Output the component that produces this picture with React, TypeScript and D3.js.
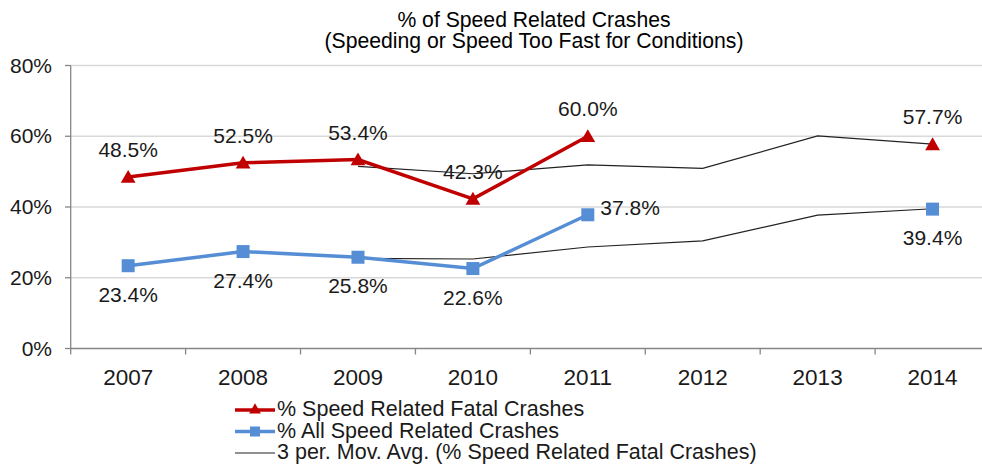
import React from "react";
import * as d3 from "d3";

const years = ["2007", "2008", "2009", "2010", "2011", "2012", "2013", "2014"];
const fatalPct = [48.5, 52.5, 53.4, 42.3, 60.0, null, null, 57.7];
const allPct = [23.4, 27.4, 25.8, 22.6, 37.8, null, null, 39.4];
const fatalAvg = [null, null, 51.5, 49.4, 51.9, 50.9, 60.1, 57.8];
const allAvg = [null, null, 25.5, 25.3, 28.7, 30.4, 37.7, 39.5];
const yTicks = [0, 20, 40, 60, 80];

// where each data label sits relative to its point
const fatalLabelPos = ["above", "above", "above", "above", "above", null, null, "above"];
const allLabelPos = ["below", "below", "below", "below", "right", null, null, "below"];

const W = 982;
const H = 470;
const FONT = "'Liberation Sans', Arial, sans-serif";
const RED = "#C00000";
const BLUE = "#558ED5";

const x = d3.scaleBand().domain(years).range([70.7, 990]);
const y = d3.scaleLinear().domain([0, 80]).range([348.5, 65.5]);
const cx = (i: number) => x(years[i])! + x.bandwidth() / 2;

const line = d3
  .line<number | null>()
  .defined((d) => d != null)
  .x((_, i) => cx(i))
  .y((d) => y(d as number));

const triangle = d3.symbol().type(d3.symbolTriangle).size(95)();

function Labels({ values, pos }: { values: (number | null)[]; pos: (string | null)[] }) {
  return (
    <g fontFamily={FONT} fontSize={21} fill="#1a1a1a">
      {values.map((v, i) => {
        if (v == null) return null;
        const px = cx(i);
        const py = y(v);
        const p = pos[i];
        if (p === "right")
          return (
            <text key={i} x={px + 12.5} y={py} textAnchor="start">
              {v.toFixed(1)}%
            </text>
          );
        return (
          <text key={i} x={px} y={p === "above" ? py - 20 : py + 36} textAnchor="middle">
            {v.toFixed(1)}%
          </text>
        );
      })}
    </g>
  );
}

export default function App() {
  const boundaries = d3.range(years.length + 1).map((i) => 70.7 + i * x.bandwidth());
  return (
    <svg
      width={W}
      height={H}
      style={{ position: "absolute", left: 0, top: 0, background: "#fff" }}
    >
      <g fontFamily={FONT} fill="#000" textAnchor="middle" fontSize={21.2}>
        <text x={534} y={27}>% of Speed Related Crashes</text>
        <text x={534} y={48}>(Speeding or Speed Too Fast for Conditions)</text>
      </g>

      {yTicks.map((t) => (
        <g key={t}>
          {t > 0 && (
            <line x1={70.7} x2={W} y1={y(t)} y2={y(t)} stroke="#d9d9d9" strokeWidth={1.3} />
          )}
          <line x1={65} x2={70.7} y1={y(t)} y2={y(t)} stroke="#868686" strokeWidth={1.3} />
          <text
            x={52}
            y={y(t) + 7}
            textAnchor="end"
            fontFamily={FONT}
            fontSize={21}
            fill="#1a1a1a"
          >
            {t}%
          </text>
        </g>
      ))}

      <line x1={70.7} x2={70.7} y1={y(80)} y2={y(0)} stroke="#868686" strokeWidth={1.3} />
      <line x1={70.7} x2={W} y1={y(0)} y2={y(0)} stroke="#868686" strokeWidth={1.3} />
      {boundaries.map((b, i) => (
        <line key={i} x1={b} x2={b} y1={y(0)} y2={y(0) + 6} stroke="#868686" strokeWidth={1.3} />
      ))}
      {years.map((yr, i) => (
        <text
          key={yr}
          x={cx(i)}
          y={385}
          textAnchor="middle"
          fontFamily={FONT}
          fontSize={22.5}
          fill="#1a1a1a"
        >
          {yr}
        </text>
      ))}

      <path d={line(fatalAvg)!} fill="none" stroke="#222" strokeWidth={1.2} />
      <path d={line(allAvg)!} fill="none" stroke="#222" strokeWidth={1.2} />

      <path d={line(fatalPct)!} fill="none" stroke={RED} strokeWidth={3.5} />
      <path d={line(allPct)!} fill="none" stroke={BLUE} strokeWidth={3.5} />

      {fatalPct.map((v, i) =>
        v == null ? null : (
          <path key={i} d={triangle!} transform={`translate(${cx(i)},${y(v) + 1.5})`} fill={RED} />
        )
      )}
      {allPct.map((v, i) =>
        v == null ? null : (
          <rect key={i} x={cx(i) - 6.5} y={y(v) - 6.5} width={13} height={13} fill={BLUE} />
        )
      )}

      <Labels values={fatalPct} pos={fatalLabelPos} />
      <Labels values={allPct} pos={allLabelPos} />

      <g fontFamily={FONT} fontSize={21.5} fill="#1a1a1a">
        <line x1={235} x2={275} y1={410} y2={410} stroke={RED} strokeWidth={3.5} />
        <path d={d3.symbol().type(d3.symbolTriangle).size(60)()!} transform="translate(255,410)" fill={RED} />
        <text x={277} y={415.7}>% Speed Related Fatal Crashes</text>

        <line x1={235} x2={275} y1={431.5} y2={431.5} stroke={BLUE} strokeWidth={3.5} />
        <rect x={250} y={426.5} width={10} height={10} fill={BLUE} />
        <text x={277} y={437.7}>% All Speed Related Crashes</text>

        <line x1={235} x2={275} y1={453} y2={453} stroke="#222" strokeWidth={1.2} />
        <text x={277} y={458.5}>3 per. Mov. Avg. (% Speed Related Fatal Crashes)</text>
      </g>
    </svg>
  );
}
